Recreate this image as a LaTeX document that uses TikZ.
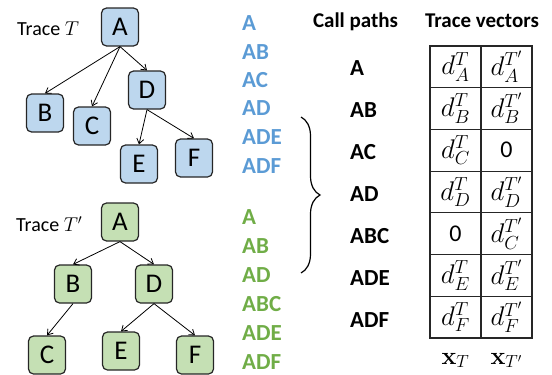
\RequirePackage{fix-cm}
\documentclass[tikz,border=0pt]{standalone}
\usepackage[no-math]{fontspec}
\setmainfont{Carlito}
\usetikzlibrary{arrows.meta,decorations.pathreplacing}
\definecolor{boxblue}{HTML}{BDD7EE}
\definecolor{boxgreen}{HTML}{C5E0B4}
\definecolor{txtblue}{HTML}{5B9BD5}
\definecolor{txtgreen}{HTML}{70AD47}
\begin{document}
\begin{tikzpicture}[x=1pt,y=-1pt,
  treebox/.style={draw=black!85, line width=1.2pt, rounded corners=5pt,
    minimum width=37pt, minimum height=38pt, inner sep=0pt,
    font=\fontsize{27}{30}\selectfont},
  bluebox/.style={treebox, fill=boxblue},
  greenbox/.style={treebox, fill=boxgreen},
  treearrow/.style={-{Straight Barb[length=5pt,width=7pt]}, line width=0.8pt},
  tracelabel/.style={anchor=west, inner sep=0pt, font=\fontsize{20}{24}\selectfont},
  bluepath/.style={anchor=west, inner sep=0pt, text=txtblue, font=\fontsize{23}{26}\bfseries\selectfont},
  greenpath/.style={anchor=west, inner sep=0pt, text=txtgreen, font=\fontsize{23}{26}\bfseries\selectfont},
  callpath/.style={anchor=west, inner sep=0pt, font=\fontsize{23}{26}\bfseries\selectfont},
  header/.style={anchor=base, inner sep=0pt, font=\fontsize{21}{25}\bfseries\selectfont},
  cell/.style={draw=black!85, line width=1.2pt, minimum width=51pt, minimum height=41.71pt,
    inner sep=0pt, font=\fontsize{27}{32}\selectfont},
  zerocell/.style={cell, font=\fontsize{24}{28}\selectfont},
  veclabel/.style={anchor=base, inner sep=0pt, font=\fontsize{25}{30}\selectfont},
  bracestyle/.style={decorate, decoration={brace, amplitude=19pt}, line width=1.2pt}
]
\useasboundingbox (0,0) rectangle (552,375);

% ---- Trace T (blue)
\node[tracelabel] (tT) at (17,29) {Trace $T$};
\node[bluebox] (bA) at (120,27) {A};
\node[bluebox] (bB) at (45,113) {B};
\node[bluebox] (bC) at (92,126) {C};
\node[bluebox] (bD) at (147,90) {D};
\node[bluebox] (bE) at (139,164) {E};
\node[bluebox] (bF) at (194,158) {F};
\draw[treearrow] (bA.south) -- (bB.north);
\draw[treearrow] (bA.south) -- (bC.north);
\draw[treearrow] (bA.south) -- (bD.north);
\draw[treearrow] (bD.south) -- (bE.north);
\draw[treearrow] (bD.south) -- (bF.north);

% ---- Trace T' (green)
\node[tracelabel] (tT2) at (16,224) {Trace $T'$};
\node[greenbox] (gA) at (120,222) {A};
\node[greenbox] (gB) at (73,284) {B};
\node[greenbox] (gD) at (154,284) {D};
\node[greenbox] (gC) at (47,355) {C};
\node[greenbox] (gE) at (121,351) {E};
\node[greenbox] (gF) at (195,355) {F};
\draw[treearrow] (gA.south) -- (gB.north);
\draw[treearrow] (gA.south) -- (gD.north);
\draw[treearrow] (gB.south) -- (gC.north);
\draw[treearrow] (gD.south) -- (gE.north);
\draw[treearrow] (gD.south) -- (gF.north);

% ---- path lists
\node[bluepath] (p1) at (242,22.7) {A};
\node[bluepath] (p2) at (242,51.7) {AB};
\node[bluepath] (p3) at (242,80) {AC};
\node[bluepath] (p4) at (242,108.5) {AD};
\node[bluepath] (p5) at (242,137) {ADE};
\node[bluepath] (p6) at (242,166) {ADF};

\node[greenpath] (q1) at (242,217) {A};
\node[greenpath] (q2) at (242,246.5) {AB};
\node[greenpath] (q3) at (242,275) {AD};
\node[greenpath] (q4) at (242,304) {ABC};
\node[greenpath] (q5) at (242,333) {ADE};
\node[greenpath] (q6) at (242,362) {ADF};

% ---- brace
\coordinate (brTop) at (301,117);
\coordinate (brBot) at (301,273);
\draw[bracestyle] (brTop) -- (brBot);

% ---- headers
\node[header] (h1) at (355.5,27) {Call paths};
\node[header] (h2) at (482,27) {Trace vectors};

% ---- call path labels
\node[callpath] (r1) at (350,68) {A};
\node[callpath] (r2) at (350,110) {AB};
\node[callpath] (r3) at (350,152) {AC};
\node[callpath] (r4) at (350,194) {AD};
\node[callpath] (r5) at (350,236) {ABC};
\node[callpath] (r6) at (350,278) {ADE};
\node[callpath] (r7) at (350,320) {ADF};

% ---- table
\node[cell] (c11) at (455.5,66.86) {$d_A^T$};
\node[cell] (c12) at (506.5,66.86) {$d_A^{T'}$};
\node[cell] (c21) at (455.5,108.57) {$d_B^T$};
\node[cell] (c22) at (506.5,108.57) {$d_B^{T'}$};
\node[cell] (c31) at (455.5,150.29) {$d_C^T$};
\node[zerocell] (c32) at (506.5,150.29) {0};
\node[cell] (c41) at (455.5,192) {$d_D^T$};
\node[cell] (c42) at (506.5,192) {$d_D^{T'}$};
\node[zerocell] (c51) at (455.5,233.71) {0};
\node[cell] (c52) at (506.5,233.71) {$d_C^{T'}$};
\node[cell] (c61) at (455.5,275.43) {$d_E^T$};
\node[cell] (c62) at (506.5,275.43) {$d_E^{T'}$};
\node[cell] (c71) at (455.5,317.14) {$d_F^T$};
\node[cell] (c72) at (506.5,317.14) {$d_F^{T'}$};

\node[veclabel] (xT) at (455.5,364) {$\mathbf{x}_T$};
\node[veclabel] (xT2) at (506.5,364) {$\mathbf{x}_{T'}$};
\end{tikzpicture}
\end{document}
